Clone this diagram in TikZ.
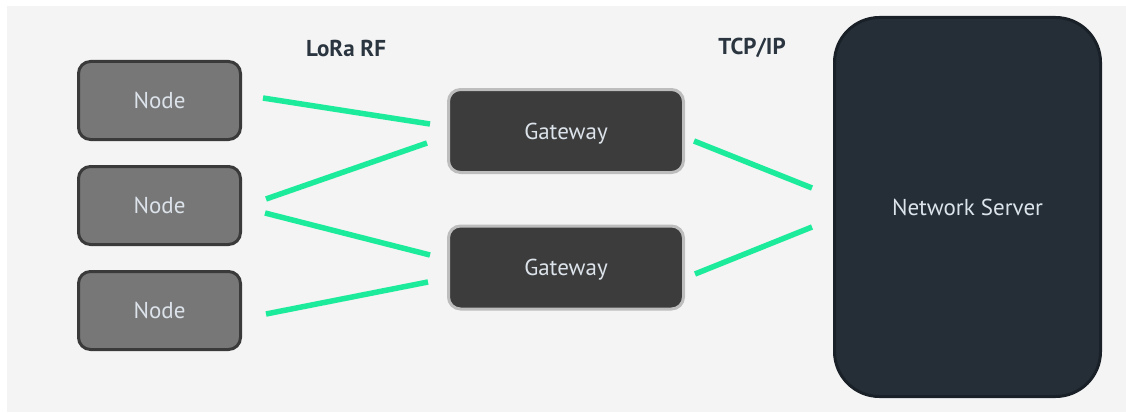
\documentclass[tikz,border=0pt]{standalone}
\usepackage{fontspec}
\setmainfont{PT Sans}
\definecolor{bggray}{HTML}{F4F4F4}
\definecolor{nodefill}{HTML}{777777}
\definecolor{nodeedge}{HTML}{3A3A3A}
\definecolor{gwfill}{HTML}{3C3C3C}
\definecolor{gwedge}{HTML}{BDBDBD}
\definecolor{nsfill}{HTML}{252E37}
\definecolor{nsedge}{HTML}{1A2027}
\definecolor{link}{HTML}{1CEB9B}
\definecolor{labeltxt}{HTML}{2A3540}
\definecolor{boxtxt}{HTML}{DCE3EA}
\begin{document}
\begin{tikzpicture}[x=1pt,y=-1pt,
  boxfont/.style={font=\fontsize{23}{26}\selectfont, text height=16pt, text depth=0pt},
  devbox/.style={draw=nodeedge, line width=3pt, fill=nodefill, rounded corners=12pt,
    minimum width=162pt, minimum height=78pt, inner sep=0pt, text=boxtxt, boxfont},
  gwbox/.style={draw=gwedge, line width=3pt, fill=gwfill, rounded corners=12pt,
    minimum width=235pt, minimum height=83pt, inner sep=0pt, text=boxtxt, boxfont},
  srvbox/.style={draw=nsedge, line width=3pt, fill=nsfill, rounded corners=45pt,
    minimum width=266pt, minimum height=379pt, inner sep=0pt, text=boxtxt, boxfont},
  toplabel/.style={text=labeltxt, font=\fontsize{23}{26}\selectfont\bfseries},
  wire/.style={draw=link, line width=5.5pt}]
\fill[white] (0,0) rectangle (1126,412);
\fill[bggray] (7,6) rectangle (1126,412);
\useasboundingbox (0,0) rectangle (1126,412);

\node[devbox] (n1) at (159.5,100.5) {Node};
\node[devbox] (n2) at (159.5,205.5) {Node};
\node[devbox] (n3) at (159.5,310.5) {Node};
\node[gwbox] (g1) at (566,131) {Gateway};
\node[gwbox] (g2) at (566,267.5) {Gateway};
\node[srvbox] (ns) at (967.5,207) {Network Server};

\node[toplabel] (lora) at (346,48) {LoRa RF};
\node[toplabel] (tcp) at (752,48) {TCP/IP};

\coordinate (a1) at (263,98);  \coordinate (b1) at (430,124);
\coordinate (a2) at (266,199); \coordinate (b2) at (427,143);
\coordinate (a3) at (265,213); \coordinate (b3) at (430,255);
\coordinate (a4) at (266,314); \coordinate (b4) at (428,282);
\coordinate (c1) at (694,141); \coordinate (d1) at (812,188);
\coordinate (c2) at (695,274); \coordinate (d2) at (812,227);

\draw[wire] (a1) -- (b1);
\draw[wire] (a2) -- (b2);
\draw[wire] (a3) -- (b3);
\draw[wire] (a4) -- (b4);
\draw[wire] (c1) -- (d1);
\draw[wire] (c2) -- (d2);
\end{tikzpicture}
\end{document}
